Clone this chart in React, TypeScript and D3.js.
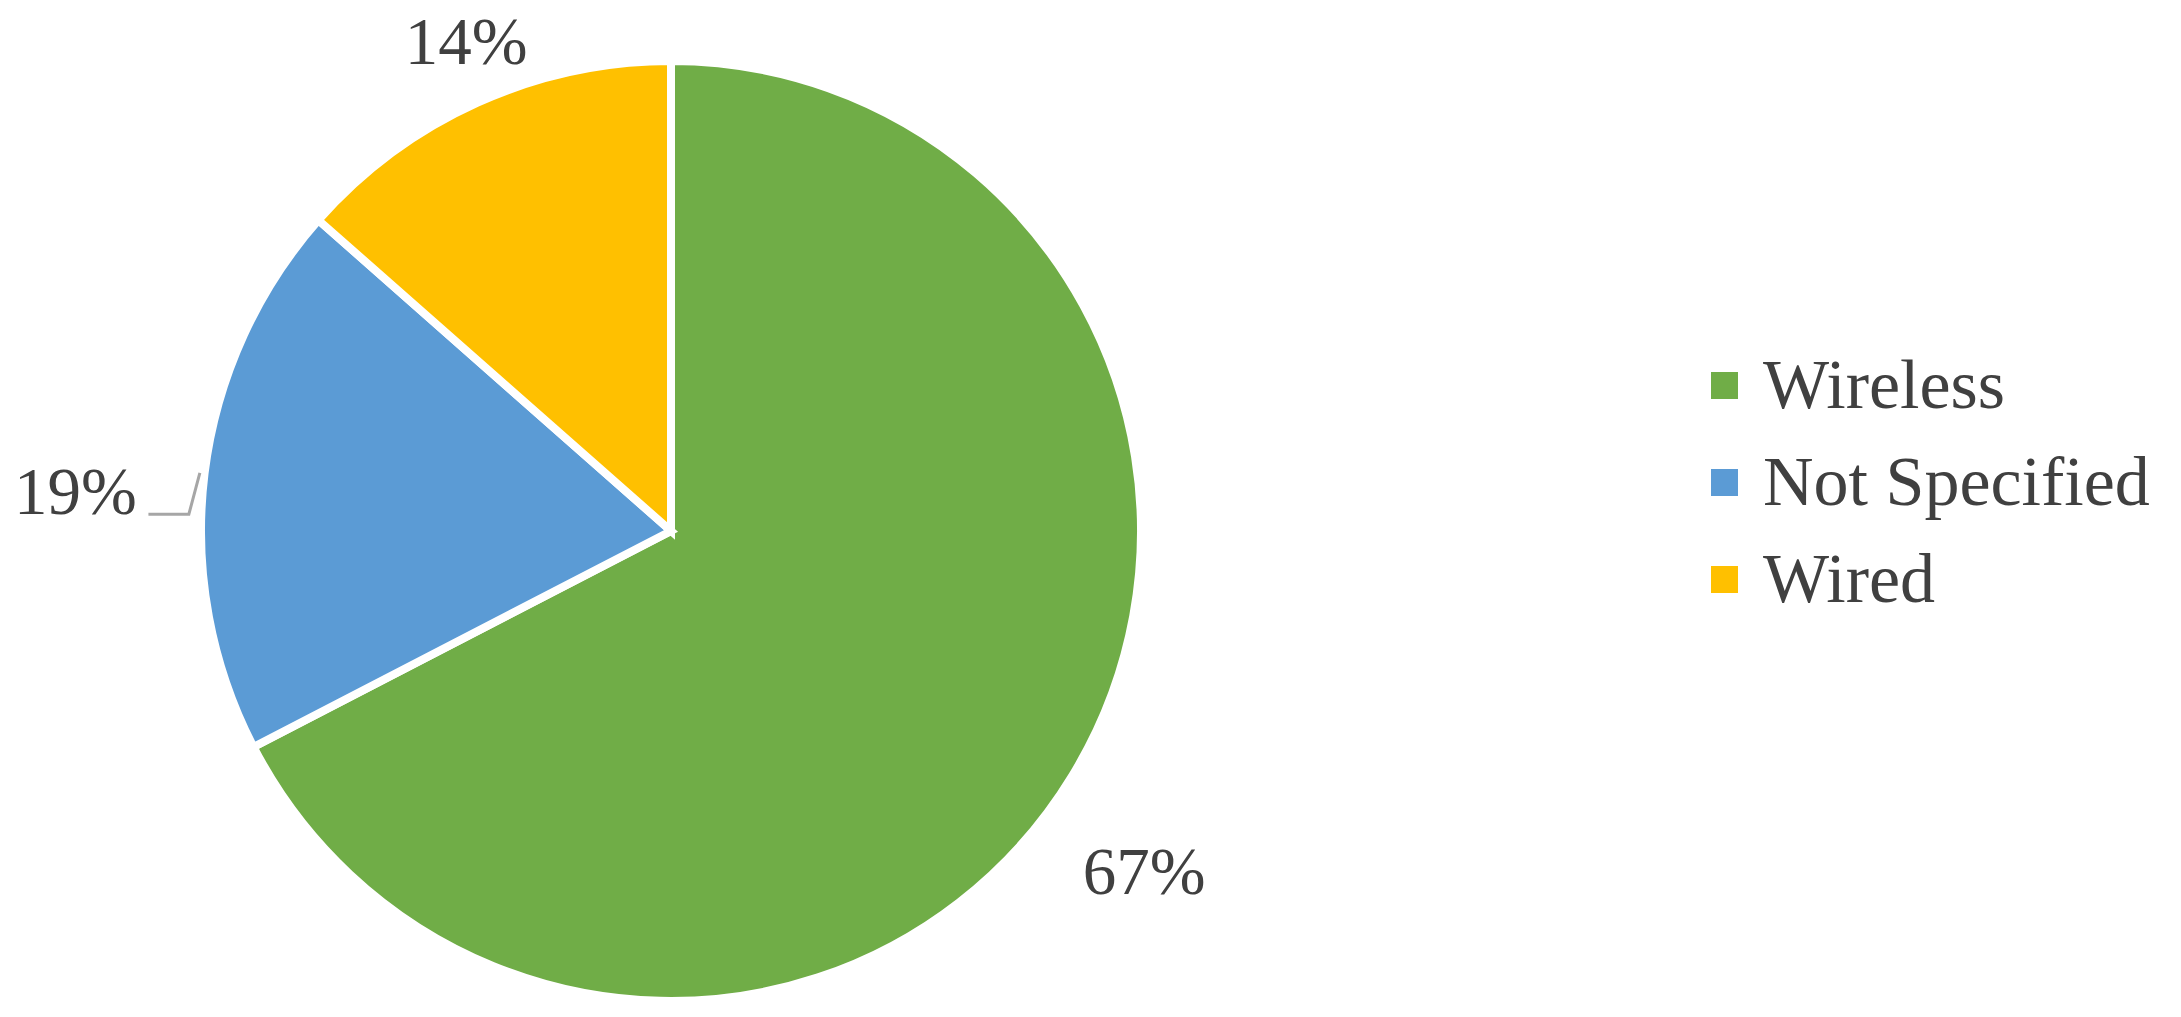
import React from "react";
import * as d3 from "d3";

// share of each connection type, in percent (labels show them rounded)
const categories = ["Wireless", "Not Specified", "Wired"];
const shares = [67.4, 19.1, 13.5];
const colors = ["#70AD47", "#5B9BD5", "#FFC000"];

const W = 2181;
const H = 1017;
const cx = 671;
const cy = 531;
const R = 470;
const FONT = "'Liberation Serif', 'Times New Roman', serif";
const TEXT = "#404040";

// where each percentage label sits, relative to its slice
const labelPlace = [
  { shift: 4.4, factor: 1.24 },
  { shift: -3.2, factor: 1.27, leader: true },
  { shift: 1.6, factor: 1.13 },
];

export default function App() {
  const total = d3.sum(shares);
  const pie = d3.pie<number>().sort(null).value((d) => d);
  const arcs = pie(shares);
  const arc = d3.arc<d3.PieArcDatum<number>>().innerRadius(0).outerRadius(R);

  const polar = (angle: number, r: number): [number, number] => [
    Math.sin(angle) * r,
    -Math.cos(angle) * r,
  ];

  return (
    <svg
      width={W}
      height={H}
      style={{ position: "absolute", left: 0, top: 0, background: "#fff" }}
    >
      <g transform={`translate(${cx},${cy})`}>
        {arcs.map((a, i) => (
          <path
            key={categories[i]}
            d={arc(a) || ""}
            fill={colors[i]}
            stroke="#fff"
            strokeWidth={8}
          />
        ))}
        {arcs.map((a, i) => {
          const mid = (a.startAngle + a.endAngle) / 2;
          const p = labelPlace[i];
          const [x, y] = polar(mid + (p.shift * Math.PI) / 180, R * p.factor);
          const pct = Math.round((shares[i] / total) * 100) + "%";
          const [ex, ey] = polar(mid, R * 1.01);
          const base = y + 23;
          return (
            <g key={"l" + i}>
              {p.leader && (
                <polyline
                  points={`${x + 73},${base} ${ex - 11},${base} ${ex},${ey}`}
                  fill="none"
                  stroke="#a6a6a6"
                  strokeWidth={3}
                />
              )}
              <text
                x={x}
                y={base}
                textAnchor="middle"
                fontFamily={FONT}
                fontSize={67}
                fill={TEXT}
              >
                {pct}
              </text>
            </g>
          );
        })}
      </g>
      <g transform="translate(1711,372)">
        {categories.map((c, i) => (
          <g key={c} transform={`translate(0,${i * 97})`}>
            <rect width={27} height={27} fill={colors[i]} />
            <text
              x={52}
              y={36}
              fontFamily={FONT}
              fontSize={70}
              fill={TEXT}
            >
              {c}
            </text>
          </g>
        ))}
      </g>
    </svg>
  );
}
